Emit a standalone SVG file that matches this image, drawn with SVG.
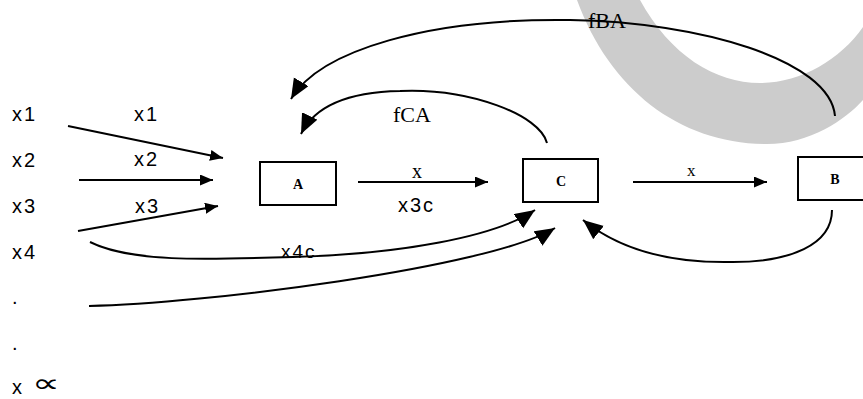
<svg xmlns="http://www.w3.org/2000/svg" width="863" height="399" viewBox="0 0 863 399">
<style>
.lbl{font-family:"Liberation Sans",Arial,sans-serif;font-size:20px;letter-spacing:2px;fill:#000}
.ser{font-family:"Liberation Serif","Times New Roman",serif;fill:#000}
.box{fill:#fff;stroke:#000;stroke-width:2}
.bl{font-family:"Liberation Serif","Times New Roman",serif;font-size:14px;font-weight:bold;text-anchor:middle;fill:#000}
.c{fill:none;stroke:#000;stroke-width:2}
.s{marker-end:url(#ah)}
.L{marker-end:url(#ahL)}
</style>
<defs>
<marker id="ah" markerUnits="userSpaceOnUse" markerWidth="14" markerHeight="12" refX="13" refY="5.5" orient="auto"><path d="M0,0 L13,5.5 L0,11 z" fill="#000"/></marker>
<marker id="ahL" markerUnits="userSpaceOnUse" markerWidth="22" markerHeight="18" refX="20" refY="8.5" orient="auto"><path d="M0,0 L20,8.5 L0,17 z" fill="#000"/></marker>
</defs>
<rect width="863" height="399" fill="#fff"/>
<path id="band" d="M577,0 C610,90 680,144 767,144 C810,144 845,120 863,100 L863,27 C840,60 800,83 760,83 C715,83 670,55 640,0 Z" fill="#cccccc"/>
<g id="connectors">
<path class="c s" d="M68,126 L223,158"/>
<path class="c s" d="M79,180 L213,180"/>
<path class="c s" d="M78,231 L218,206"/>
<path class="c s" d="M358,182 L488,182"/>
<path class="c s" d="M633,182 L767,182"/>
<path class="c L" d="M90,242 C130,262 200,260 293,257 C400,254 495,237 535,210"/>
<path class="c L" d="M89,306 C200,304 490,268 555,228"/>
<path class="c L" d="M832,210 C832,245 790,262 733,262 C690,263 630,258 583,220"/>
<path class="c L" d="M547,143 C540,115 470,88 400,91 C350,92 315,105 301,134"/>
<path class="c L" d="M835,116 C830,60 700,22 570,20 C430,18 320,50 291,99"/>
</g>
<g id="A"><rect class="box" x="260" y="162" width="76" height="43"/><text class="bl" x="298" y="189">A</text></g>
<g id="C"><rect class="box" x="523" y="159" width="75" height="43"/><text class="bl" x="561" y="186">C</text></g>
<g id="B"><rect class="box" x="798" y="157" width="74" height="43"/><text class="bl" x="835" y="184">B</text></g>
<g id="labels">
<text class="lbl" x="12" y="121">x1</text>
<text class="lbl" x="12" y="167">x2</text>
<text class="lbl" x="12" y="213">x3</text>
<text class="lbl" x="12" y="259">x4</text>
<text class="lbl" x="12" y="304">.</text>
<text class="lbl" x="12" y="350">.</text>
<text class="lbl" x="12" y="394">x</text>
<text transform="translate(32,392) scale(1.5,1)" font-family="DejaVu Sans,sans-serif" font-size="26" fill="#000">∝</text>
<text class="lbl" x="134" y="121">x1</text>
<text class="lbl" x="134" y="166">x2</text>
<text class="lbl" x="135" y="213">x3</text>
<text class="lbl" x="398" y="212">x3c</text>
<text class="lbl" x="281" y="258" style="font-size:19px">x4c</text>
<text class="ser" x="412" y="178" font-size="20">x</text>
<text class="ser" x="687" y="176" font-size="17">x</text>
<text class="ser" x="393" y="122" font-size="22">fCA</text>
<text class="ser" x="588" y="28" font-size="22">fBA</text>
</g>
</svg>
